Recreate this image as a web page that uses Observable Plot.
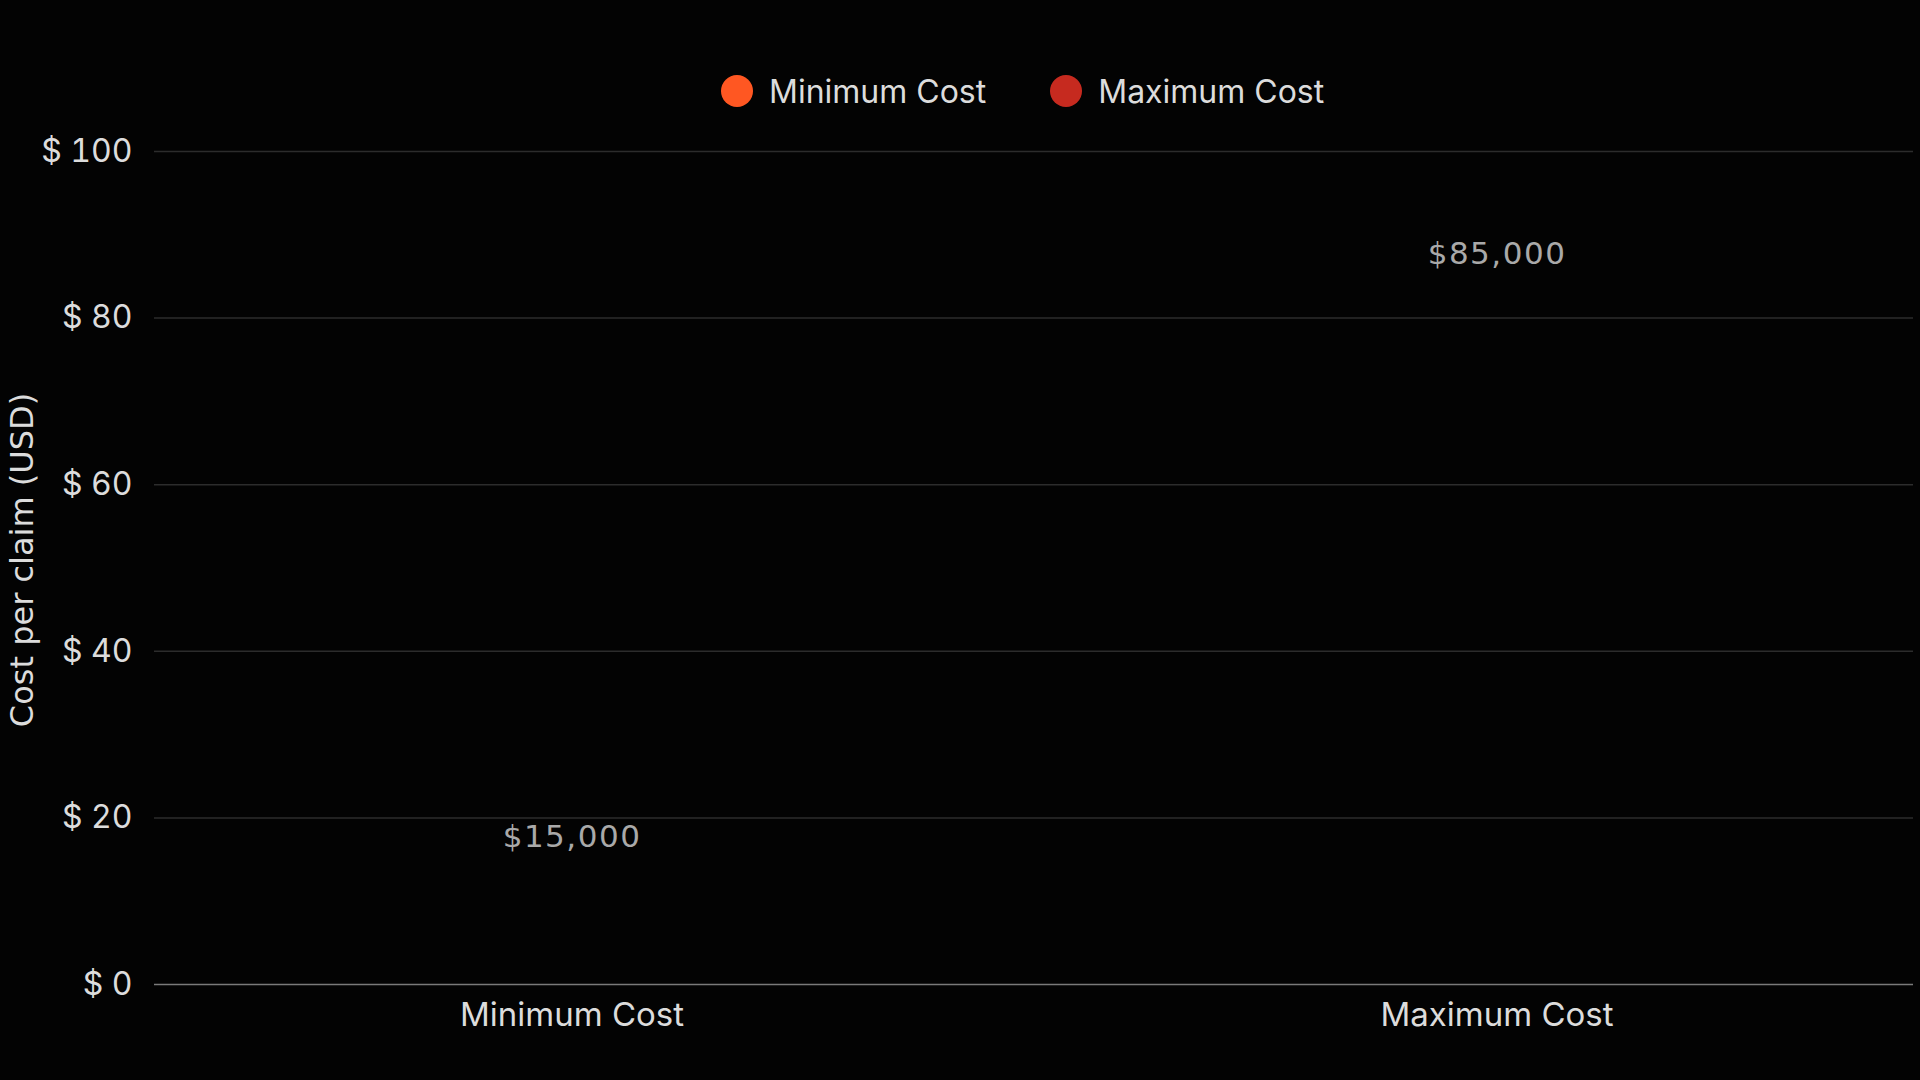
<!DOCTYPE html>
<html><head><meta charset="utf-8">
<script src="https://cdn.jsdelivr.net/npm/d3@7"></script>
<script src="https://cdn.jsdelivr.net/npm/@observablehq/plot@0.6"></script>
<style>
html,body{margin:0;padding:0;background:#030303;width:1920px;height:1080px;overflow:hidden}
#legend{position:absolute;left:721px;top:75px;height:32px;display:flex;align-items:center;font-family:Inter,sans-serif;font-size:32px;color:#dcdcdc}
.item{display:flex;align-items:center;margin-right:64px}
.sw{width:32px;height:32px;border-radius:50%;margin-right:16px}
#chart{position:absolute;left:0;top:120px}
</style></head><body>
<div id="legend"></div><div id="chart"></div>
<script>
const categories = ["Minimum Cost", "Maximum Cost"];
const values = [15000, 85000];
const colors = ["#FF5722", "#C62A1F"];
const yTicks = [0, 20, 40, 60, 80, 100];
const yLabel = "Cost per claim (USD)";

const data = categories.map((c, i) => ({
  category: c,
  pos: values[i] / 1000,
  label: "$" + d3.format(",")(values[i])
}));

const legend = document.getElementById("legend");
categories.forEach((c, i) => {
  const it = document.createElement("div");
  it.className = "item";
  const sw = document.createElement("div");
  sw.className = "sw";
  sw.style.background = colors[i];
  const t = document.createElement("span");
  t.textContent = c;
  it.appendChild(sw); it.appendChild(t);
  legend.appendChild(it);
});

const chart = Plot.plot({
  width: 1920, height: 960,
  marginTop: 31, marginBottom: 96, marginLeft: 154, marginRight: 7,
  style: {background: "transparent", color: "#dcdcdc", fontFamily: "Inter, sans-serif", fontSize: "32px"},
  x: {domain: categories, paddingInner: 0.1, paddingOuter: 0, label: null},
  y: {domain: [0, 100], label: null},
  color: {domain: categories, range: colors},
  marks: [
    Plot.gridY(yTicks.filter(t => t > 0), {stroke: "#2c2c2c", strokeOpacity: 1, strokeWidth: 1.5}),
    Plot.ruleY([0], {stroke: "#7a7a7a", strokeWidth: 1.5}),
    Plot.barY(data, {x: "category", y: "pos", fill: "category", fillOpacity: 0}),
    Plot.axisY(yTicks, {tickSize: 0, tickPadding: 22, tickFormat: d => "$ " + d, fontSize: 32, label: null}),
    Plot.axisX({tickSize: 0, tickPadding: 18, fontSize: 33, label: null}),
    Plot.text(data, {x: "category", y: "pos", text: "label", dy: -22, fill: "#a9a9a9", fontSize: 31, fontFamily: "DejaVu Sans"}),
    Plot.text([yLabel], {frameAnchor: "left", textAnchor: "middle", rotate: -90, dx: -132, dy: -8, fontSize: 32, fontFamily: "DejaVu Sans", fill: "#dcdcdc"})
  ]
});
d3.select(chart).selectAll("text").filter(function () { return /,/.test(this.textContent); }).attr("letter-spacing", "1.5");
document.getElementById("chart").appendChild(chart);
</script>
</body></html>
